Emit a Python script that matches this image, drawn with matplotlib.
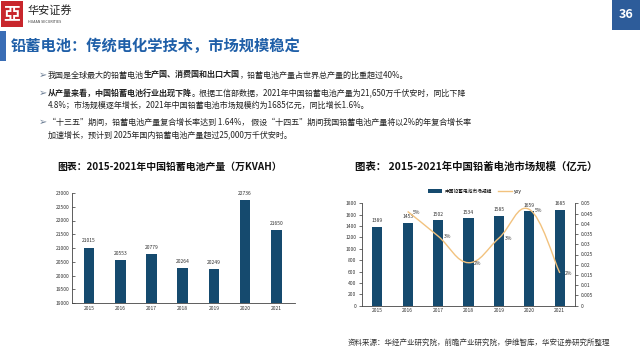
"""
Slide: lead-acid battery output and market size, 2015-2021.
"""

import numpy as np
import matplotlib.pyplot as plt
from matplotlib.path import Path
from matplotlib.patches import PathPatch, Rectangle
from matplotlib.ticker import FuncFormatter

plt.rcParams["font.family"] = ["Noto Sans CJK SC", "DejaVu Sans"]

# data
years = ["2015", "2016", "2017", "2018", "2019", "2020", "2021"]
output = [21015, 20553, 20779, 20264, 20249, 22736, 21650]  # 万KVAH
market = [1389, 1453, 1502, 1534, 1585, 1659, 1685]  # 亿元
yoy = [0.046, 0.034, 0.021, 0.033, 0.047, 0.016]  # 2016-2021
yoy_labels = ["5%", "3%", "2%", "3%", "5%", "2%"]

W, H = 640, 358
BAR = "#154a6e"
LINE = "#f2c27e"
BLUE = "#1f5fa8"


def fx(px):
    return px / W


def fy(py):
    return 1 - py / H


def smooth_path(xs, ys, t=0.2):
    # bezier curve through the points (Excel-style smoothed line)
    verts = [(xs[0], ys[0])]
    codes = [Path.MOVETO]
    n = len(xs)
    for i in range(n - 1):
        x0, y0 = xs[max(i - 1, 0)], ys[max(i - 1, 0)]
        x1, y1 = xs[i], ys[i]
        x2, y2 = xs[i + 1], ys[i + 1]
        x3, y3 = xs[min(i + 2, n - 1)], ys[min(i + 2, n - 1)]
        c1 = (x1 + (x2 - x0) * t, y1 + (y2 - y0) * t)
        c2 = (x2 - (x3 - x1) * t, y2 - (y3 - y1) * t)
        verts += [c1, c2, (x2, y2)]
        codes += [Path.CURVE4] * 3
    return Path(verts, codes)


fig = plt.figure(figsize=(6.4, 3.58), dpi=100)
fig.patch.set_facecolor("white")

# ---- header
fig.patches.append(Rectangle((fx(1), fy(27)), 22 / W, 26 / H, transform=fig.transFigure,
                             facecolor="#c8262c", edgecolor="none"))
fig.text(fx(12), fy(14), "亞", color="white", fontsize=12, ha="center", va="center",
         fontweight="bold")
fig.text(fx(28), fy(10), "华安证券", color="#222222", fontsize=8, va="center",
         fontstyle="italic")
fig.text(fx(28), fy(22), "HUAAN SECURITIES", color="#333333", fontsize=2.6, va="center")
fig.patches.append(Rectangle((fx(612), fy(30)), 28 / W, 30 / H, transform=fig.transFigure,
                             facecolor="#2d5c9a", edgecolor="none"))
fig.text(fx(626), fy(14), "36", color="white", fontsize=9, ha="center", va="center",
         fontweight="bold")

# ---- title bar
fig.patches.append(Rectangle((0, fy(61)), 6 / W, 30 / H, transform=fig.transFigure,
                             facecolor="#3a6db5", edgecolor="none"))
fig.text(fx(11), fy(46), "铅蓄电池：传统电化学技术，市场规模稳定", color=BLUE,
         fontsize=11, fontweight="bold", va="center")

# ---- bullets (mixed bold text laid out piece by piece)
bullets = [
    (75, [("我国是全球最大的铅蓄电池", False), ("生产国、消费国和出口大国", True),
          ("，铅蓄电池产量占世界总产量的比重超过40%。", False)], True),
    (93, [("从产量来看，中国铅蓄电池行业出现下降", True),
          ("。根据工信部数据，2021年中国铅蓄电池产量为21,650万千伏安时，同比下降", False)], True),
    (105, [("4.8%；市场规模逐年增长，2021年中国铅蓄电池市场规模约为1685亿元，同比增长1.6%。", False)], False),
    (122, [("“十三五”期间，铅蓄电池产量复合增长率达到 1.64%， 假设“十四五”期间我国铅蓄电池产量将以2%的年复合增长率", False)], True),
    (135, [("加速增长，预计到 2025年国内铅蓄电池产量超过25,000万千伏安时。", False)], False),
]
renderer = fig.canvas.get_renderer()
for y, parts, has_bullet in bullets:
    if has_bullet:
        fig.text(fx(39), fy(y), "➢", color="#6d7f95", fontsize=7,
                 va="center", family=["DejaVu Sans"])
    xpos = 48
    for s, bold in parts:
        t = fig.text(fx(xpos), fy(y), s, color="#222222", fontsize=5.8, va="center",
                     fontweight="bold" if bold else "normal")
        bb = t.get_window_extent(renderer)
        xpos += bb.width

# ---- chart titles
fig.text(fx(57), fy(167), "图表：2015-2021年中国铅蓄电池产量（万KVAH）", fontsize=7.1,
         fontweight="bold", va="center", color="#111111")
fig.text(fx(355), fy(167), "图表： 2015-2021年中国铅蓄电池市场规模（亿元）", fontsize=7.5,
         fontweight="bold", va="center", color="#111111")

x = np.arange(len(years))

# ---- left chart: output
ax1 = fig.add_axes([fx(72), fy(303), 223 / W, 110 / H])
ax1.bar(x, output, width=0.34, color=BAR)
for xi, v in zip(x, output):
    ax1.text(xi, v + 150, str(v), ha="center", va="bottom", fontsize=3.6, color="#333333")
ax1.set_ylim(19000, 23000)
ax1.set_yticks(np.arange(19000, 23001, 500))
ax1.set_xlim(-0.55, 6.6)
ax1.set_xticks(x)
ax1.set_xticklabels(years)
ax1.tick_params(axis="both", labelsize=3.6, colors="#333333", length=2, width=0.5,
                pad=2)
ax1.tick_params(axis="y", direction="in")
ax1.tick_params(axis="x", length=0)
ax1.spines["top"].set_visible(False)
ax1.spines["right"].set_visible(False)
for s in ["left", "bottom"]:
    ax1.spines[s].set_linewidth(0.6)
    ax1.spines[s].set_color("#444444")

# ---- right chart: market size + yoy
ax2 = fig.add_axes([fx(362), fy(305.7), 213 / W, 102.4 / H])
bars = ax2.bar(x, market, width=0.33, color=BAR, label="中国铅蓄电池市场规模")
for xi, v in zip(x, market):
    ax2.text(xi, v + 65, str(v), ha="center", va="bottom", fontsize=3.6, color="#333333")
ax2.set_ylim(0, 1800)
ax2.set_yticks(np.arange(0, 1801, 200))
ax2.set_xlim(-0.5, 6.5)
ax2.set_xticks(x)
ax2.set_xticklabels(years)
ax2.tick_params(axis="both", labelsize=3.6, colors="#333333", length=2, width=0.5,
                pad=2)
ax2.tick_params(axis="x", length=0)
ax2.spines["top"].set_visible(False)
ax2.spines["right"].set_visible(False)
for s in ["left", "bottom"]:
    ax2.spines[s].set_linewidth(0.6)
    ax2.spines[s].set_color("#444444")

ax3 = ax2.twinx()
ax3.set_ylim(0, 0.05)
ax3.set_yticks(np.arange(0, 0.0501, 0.005))
ax3.yaxis.set_major_formatter(FuncFormatter(lambda v, p: "%g" % round(v, 3)))
ax3.tick_params(axis="y", labelsize=3.6, colors="#333333", length=2, width=0.5, pad=2)
for s in ["top", "left", "bottom"]:
    ax3.spines[s].set_visible(False)
ax3.spines["right"].set_linewidth(0.6)
ax3.spines["right"].set_color("#444444")
xl = x[1:]
ax3.add_patch(PathPatch(smooth_path(list(xl), yoy), facecolor="none", edgecolor=LINE,
                        linewidth=1.0))
line, = ax3.plot([], [], color=LINE, linewidth=1.0, label="yoy")
for xi, v, lab in zip(xl, yoy, yoy_labels):
    ax3.text(xi + 0.18, v - 0.0003, lab, ha="left", va="center", fontsize=3.6,
             color="#333333")

ax2.legend(handles=[bars, line], labels=["中国铅蓄电池市场规模", "yoy"],
           loc="center", bbox_to_anchor=(fx(475), fy(191)),
           bbox_transform=fig.transFigure, ncol=2, frameon=False, fontsize=3.4,
           handlelength=3, handleheight=0.7, columnspacing=1.2, handletextpad=0.5)

# ---- source
fig.text(fx(348), fy(343), "资料来源：华经产业研究院，前瞻产业研究院，伊维智库，华安证券研究所整理",
         fontsize=5.4, color="#333333", va="center")

plt.savefig("out.png", dpi=100)
